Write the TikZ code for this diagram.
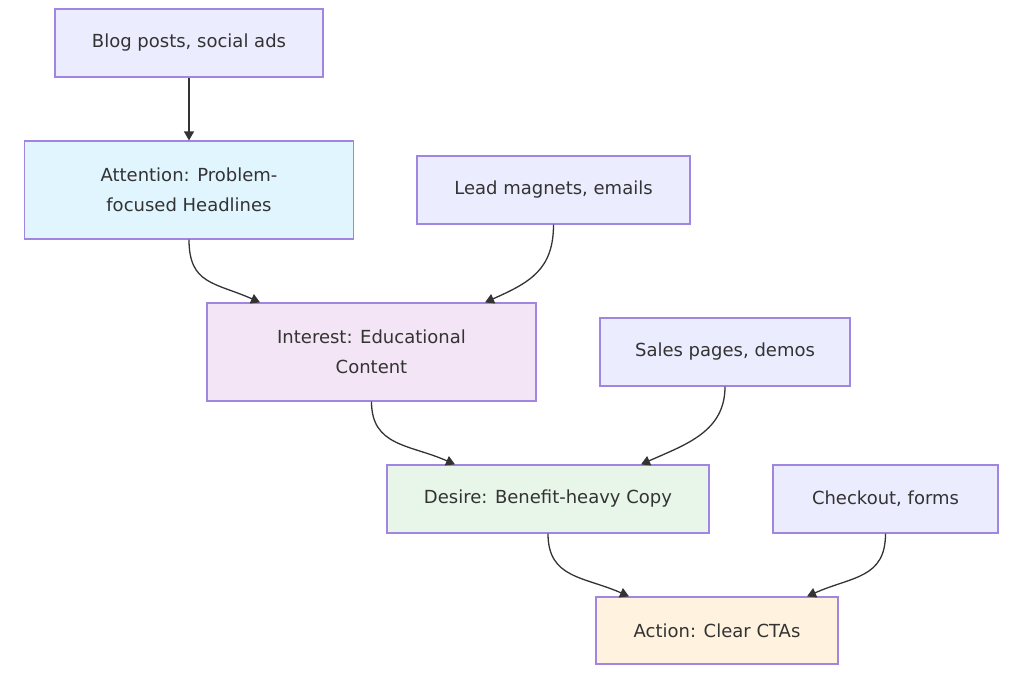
\documentclass[tikz,border=0pt]{standalone}
\usepackage{fontspec}
\setmainfont{DejaVu Sans}
\usetikzlibrary{arrows.meta,calc}
\definecolor{bordc}{HTML}{A086E0}
\definecolor{srcfill}{HTML}{ECECFF}
\definecolor{attfill}{HTML}{E1F5FE}
\definecolor{intfill}{HTML}{F3E5F5}
\definecolor{desfill}{HTML}{E8F5E9}
\definecolor{actfill}{HTML}{FFF3E0}
\definecolor{linec}{HTML}{333333}
\definecolor{textc}{HTML}{333333}
\begin{document}
\begin{tikzpicture}[x=1pt,y=-1pt,
  box/.style={draw=bordc,line width=1.2pt,inner sep=0pt,align=center,text=textc,
    font=\fontsize{18}{30}\selectfont},
  arr/.style={draw=linec,line width=1.3pt,-{Triangle[length=9pt,width=10pt]}}]
\useasboundingbox (0,0) rectangle (1024,681);
\node[box,fill=srcfill,minimum width=268,minimum height=68] (blog) at (189,43) {Blog posts, social ads};
\node[box,fill=attfill,minimum width=329,minimum height=98] (att) at (189,190) {Attention: Problem-\\focused Headlines};
\node[box,fill=srcfill,minimum width=273,minimum height=68] (lead) at (553.5,190) {Lead magnets, emails};
\node[box,fill=intfill,minimum width=329,minimum height=98] (int) at (371.5,352) {Interest: Educational\\Content};
\node[box,fill=srcfill,minimum width=250,minimum height=68] (sales) at (725,352) {Sales pages, demos};
\node[box,fill=desfill,minimum width=322,minimum height=68] (des) at (548,499) {Desire: Benefit-heavy Copy};
\node[box,fill=srcfill,minimum width=225,minimum height=68] (chk) at (885.5,499) {Checkout, forms};
\node[box,fill=actfill,minimum width=242,minimum height=67] (act) at (717,630.5) {Action: Clear CTAs};

\draw[arr] (blog.south) -- (att.north);
\draw[arr] (att.south) .. controls +(0,45) and +(-45,-20) .. ([xshift=-111.5pt]int.north);
\draw[arr] (lead.south) .. controls +(0,45) and +(45,-20) .. ([xshift=113.5pt]int.north);
\draw[arr] (int.south) .. controls +(0,45) and +(-45,-20) .. ([xshift=-93pt]des.north);
\draw[arr] (sales.south) .. controls +(0,45) and +(45,-20) .. ([xshift=93pt]des.north);
\draw[arr] (des.south) .. controls +(0,45) and +(-45,-20) .. ([xshift=-88pt]act.north);
\draw[arr] (chk.south) .. controls +(0,45) and +(45,-20) .. ([xshift=90pt]act.north);
\end{tikzpicture}
\end{document}
